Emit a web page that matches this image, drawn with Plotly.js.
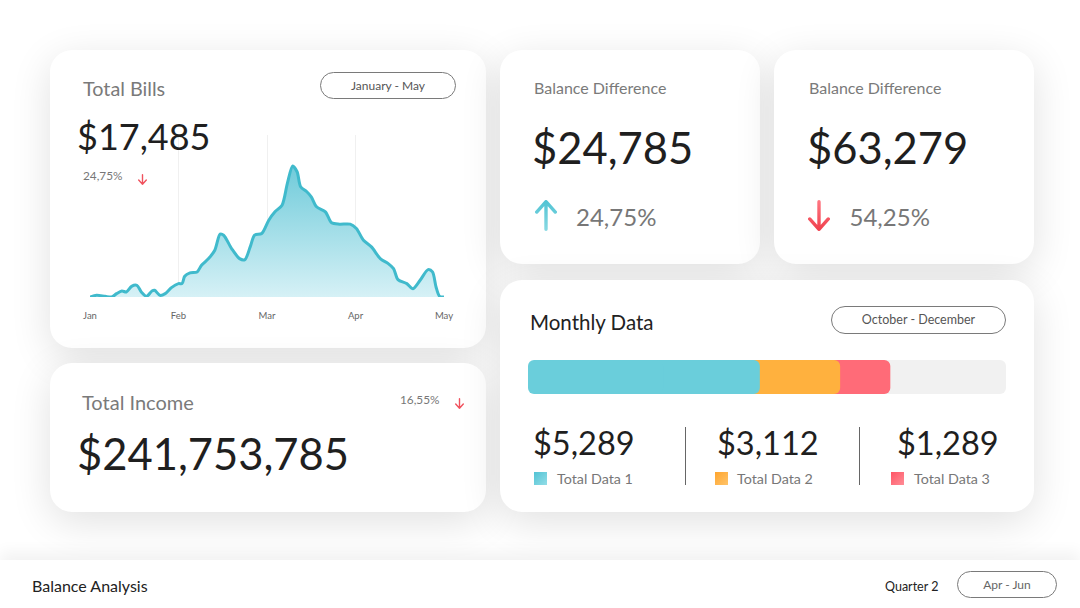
<!DOCTYPE html>
<html><head><meta charset="utf-8">
<script src="https://cdn.plot.ly/plotly-3.0.1.min.js"></script>
<style>
html,body{margin:0;padding:0;width:1080px;height:608px;overflow:hidden;background:#fff;font-family:Lato,'Open Sans',sans-serif;}
.card{position:absolute;background:#fff;border-radius:22px;box-shadow:0 10px 40px rgba(0,0,0,0.12);}
.t{position:absolute;white-space:nowrap;line-height:1;}
.pill{position:absolute;border:1px solid #7a7a7a;border-radius:15px;box-sizing:border-box;display:flex;align-items:center;justify-content:center;color:#555;line-height:1;}
.plot{position:absolute;}
.bar{position:absolute;left:0;top:560px;width:1080px;height:48px;background:#fff;box-shadow:0 -8px 14px rgba(0,0,0,0.05);}
</style></head><body>
<div id="root"></div>
<script>
// ---------- DATA ----------
const months = ['Jan', 'Feb', 'Mar', 'Apr', 'May'];
const monthPos = [0, 1, 2, 3, 4];
// Total Bills curve: position in months (0 = Jan) and value
const billsX = [0,0.075,0.17,0.245,0.30,0.36,0.41,0.47,0.53,0.58,0.64,0.70,0.73,0.79,0.85,0.92,1.00,1.04,1.07,1.13,1.21,1.26,1.34,1.41,1.47,1.51,1.60,1.69,1.75,1.81,1.86,1.94,2.02,2.09,2.17,2.23,2.29,2.34,2.38,2.45,2.50,2.56,2.66,2.73,2.82,2.94,3.01,3.09,3.18,3.28,3.37,3.43,3.48,3.58,3.65,3.73,3.82,3.87,3.91,3.95,4.00];
const billsY = [0,5,2,0,10,18,15,32,35,15,2,18,20,5,10,28,40,40,62,72,75,95,115,140,188,185,145,115,112,150,185,190,230,255,275,340,392,375,330,315,300,270,255,222,218,218,205,170,150,115,100,85,52,40,25,50,82,75,30,2,0];

const kpiTitles = ['Total Bills', 'Balance Difference', 'Balance Difference', 'Total Income'];
const kpiValues = [17485, 24785, 63279, 241753785];
const kpiChanges = ['24,75%', '24,75%', '54,25%', '16,55%'];
const kpiDirections = ['down', 'up', 'down', 'down'];
const periodLabels = ['January - May', 'October - December', 'Apr - Jun'];

const monthlyTitle = 'Monthly Data';
const monthlyLabels = ['Total Data 1', 'Total Data 2', 'Total Data 3'];
const monthlyValues = [5289, 3112, 1289];
const monthlyShares = [48.5, 16.8, 10.5];   // % of bar track
const trackTotal = 100;

const footerTitle = 'Balance Analysis';
const footerQuarter = 'Quarter 2';

// ---------- STYLE ----------
const FONT = 'Lato, "Open Sans", sans-serif';
const TEAL = '#40bacc', RED = '#f0525e';
const segColors = ['#6acedb', '#ffb13e', '#ff6b78'];
const segGrad = ['linear-gradient(135deg,#52c3d4,#93dde7)', 'linear-gradient(135deg,#ffa52e,#ffc46a)', 'linear-gradient(135deg,#ff5566,#ff8d96)'];

const root = document.getElementById('root');
function el(cls, css, html) {
  const d = document.createElement('div');
  d.className = cls; Object.assign(d.style, css); if (html !== undefined) d.textContent = html;
  root.appendChild(d); return d;
}
function txt(s, left, top, size, color) {
  return el('t', {left: left + 'px', top: top + 'px', fontSize: size + 'px', color: color}, s);
}
function pill(s, left, top, w, h, size, color) {
  return el('pill', {left: left + 'px', top: top + 'px', width: w + 'px', height: h + 'px', fontSize: size + 'px', color: color || '#555'}, s);
}
let gid = 0;
function arrow(left, top, w, h, dir, c1, c2, sw) {
  const hw = w / 2, hh = w / 2 + sw * 0.3;
  let d;
  if (dir === 'up') d = `M${hw},${h - sw / 2} L${hw},${sw / 2} M${sw / 2},${hh} L${hw},${sw / 2} L${w - sw / 2},${hh}`;
  else d = `M${hw},${sw / 2} L${hw},${h - sw / 2} M${sw / 2},${h - hh} L${hw},${h - sw / 2} L${w - sw / 2},${h - hh}`;
  const id = 'g' + (gid++);
  const d0 = document.createElement('div');
  d0.style.cssText = `position:absolute;left:${left}px;top:${top}px;width:${w}px;height:${h}px;`;
  d0.innerHTML = `<svg width="${w}" height="${h}" viewBox="0 0 ${w} ${h}"><defs><linearGradient id="${id}" x1="0" y1="0" x2="0" y2="1" gradientUnits="objectBoundingBox"><stop offset="0" stop-color="${c1}"/><stop offset="1" stop-color="${c2}"/></linearGradient></defs><path d="${d}" fill="none" stroke="url(#${id})" stroke-width="${sw}" stroke-linecap="round" stroke-linejoin="round"/></svg>`;
  root.appendChild(d0);
}
const fmt = v => '$' + v.toLocaleString('en-US');

// cards
el('card', {left: '50px', top: '50px', width: '436px', height: '298px'});
el('card', {left: '500px', top: '50px', width: '260px', height: '214px'});
el('card', {left: '774px', top: '50px', width: '260px', height: '214px'});
el('card', {left: '50px', top: '363px', width: '436px', height: '149px'});
el('card', {left: '500px', top: '280px', width: '534px', height: '232px'});
el('bar', {});

// plots
const areaDiv = el('plot', {left: '70px', top: '128px', width: '400px', height: '202px'});
const hbarDiv = el('plot', {left: '520px', top: '350px', width: '500px', height: '55px'});

// Card A
txt(kpiTitles[0], 83, 79.1, 19.8, '#7a7a7a');
txt(fmt(kpiValues[0]), 77, 118, 36, '#1f1f1f');
txt(kpiChanges[0], 83, 169.5, 11.8, '#777');
arrow(138, 169, 9, 11, kpiDirections[0], RED, RED, 1.4);
pill(periodLabels[0], 320, 72, 136, 27, 12);

// Card B, C
txt(kpiTitles[1], 534, 79.8, 16, '#7a7a7a');
txt(fmt(kpiValues[1]), 532, 126.4, 43.5, '#1f1f1f');
arrow(535, 200, 22, 31, kpiDirections[1], '#52c4d4', '#86d8e2', 3.4);
txt(kpiChanges[1], 576, 205.4, 24, '#777');

txt(kpiTitles[2], 809, 79.8, 16, '#7a7a7a');
txt(fmt(kpiValues[2]), 807, 126.4, 43.5, '#1f1f1f');
arrow(808, 200, 22, 31, kpiDirections[2], '#ff7580', '#f0424f', 3.4);
txt(kpiChanges[2], 849.5, 205.4, 24, '#777');

// Card D
txt(kpiTitles[3], 82, 392.3, 20, '#7a7a7a');
txt(kpiChanges[3], 400, 393.8, 11.8, '#777');
arrow(455, 393, 9, 11, kpiDirections[3], RED, RED, 1.4);
txt(fmt(kpiValues[3]), 77, 432.2, 43.5, '#1f1f1f');

// Card E
txt(monthlyTitle, 530, 311.8, 20.5, '#222');
pill(periodLabels[1], 831, 306, 175, 28, 12.5);
const valLeft = [533, 717, 897], sqLeft = [534, 715, 891], labLeft = [557, 737, 914];
monthlyValues.forEach((v, i) => {
  txt(fmt(v), valLeft[i], 427.2, 32.5, '#1f1f1f');
  el('sq', {position: 'absolute', left: sqLeft[i] + 'px', top: '472px', width: '13px', height: '13px', background: segGrad[i]});
  txt(monthlyLabels[i], labLeft[i], 472.3, 14.3, '#777');
});
[685, 859].forEach(x => el('div', {position: 'absolute', left: x + 'px', top: '427px', width: '1px', height: '58px', background: '#666'}));

// footer
txt(footerTitle, 32, 578.1, 16, '#222');
txt(footerQuarter, 885, 580.5, 12.5, '#222');
pill(periodLabels[2], 957, 571, 100, 27, 12, '#666');

// ---------- PLOTS ----------
Plotly.newPlot(areaDiv, [{
  type: 'scatter', mode: 'lines', x: billsX, y: billsY,
  line: {color: TEAL, width: 3, shape: 'spline', smoothing: 0.8},
  fill: 'tozeroy',
  fillgradient: {type: 'vertical', start: 0, stop: Math.max(...billsY),
    colorscale: [[0, 'rgb(214,241,246)'], [1, 'rgb(112,203,218)']]},
  hoverinfo: 'skip'
}], {
  width: 400, height: 202,
  margin: {l: 20, r: 26, t: 7, b: 33},
  paper_bgcolor: 'rgba(0,0,0,0)', plot_bgcolor: 'rgba(0,0,0,0)',
  showlegend: false,
  xaxis: {range: [0, 4], tickvals: monthPos, ticktext: months, showgrid: true, gridcolor: '#f0f0f0', gridwidth: 1,
    zeroline: false, showline: false, ticks: 'outside', ticklen: 10, tickcolor: 'rgba(0,0,0,0)',
    tickfont: {family: FONT, size: 9.5, color: '#666'}, fixedrange: true},
  yaxis: {range: [0, 485], visible: false, showgrid: false, zeroline: false, fixedrange: true}
}, {displayModeBar: false, staticPlot: true});

// overlay bars built from the shares (teal split in two overlapping halves so both ends are rounded)
const cum = [];
monthlyShares.reduce((a, v, i) => (cum[i] = a + v), 0);
const anchor = monthlyShares[0] / 2;
const hbar = (base, len, color) => ({type: 'bar', orientation: 'h', y: [0], x: [len], base: [base], width: [1],
  marker: {color: color, cornerradius: 6, line: {width: 0}, opacity: 1}, hoverinfo: 'skip'});
Plotly.newPlot(hbarDiv, [
  hbar(anchor, trackTotal - anchor, '#f1f1f1'),
  hbar(anchor, cum[2] - anchor, segColors[2]),
  hbar(anchor, cum[1] - anchor, segColors[1]),
  hbar(anchor - 4, cum[0] - anchor + 4, segColors[0]),
  hbar(anchor + 4, -(anchor + 4), segColors[0])
], {
  width: 500, height: 55, barmode: 'overlay',
  margin: {l: 8, r: 14, t: 10, b: 11},
  paper_bgcolor: 'rgba(0,0,0,0)', plot_bgcolor: 'rgba(0,0,0,0)', showlegend: false,
  xaxis: {range: [0, trackTotal], visible: false, fixedrange: true},
  yaxis: {range: [-0.5, 0.5], visible: false, fixedrange: true}
}, {displayModeBar: false, staticPlot: true});
</script>
</body></html>
